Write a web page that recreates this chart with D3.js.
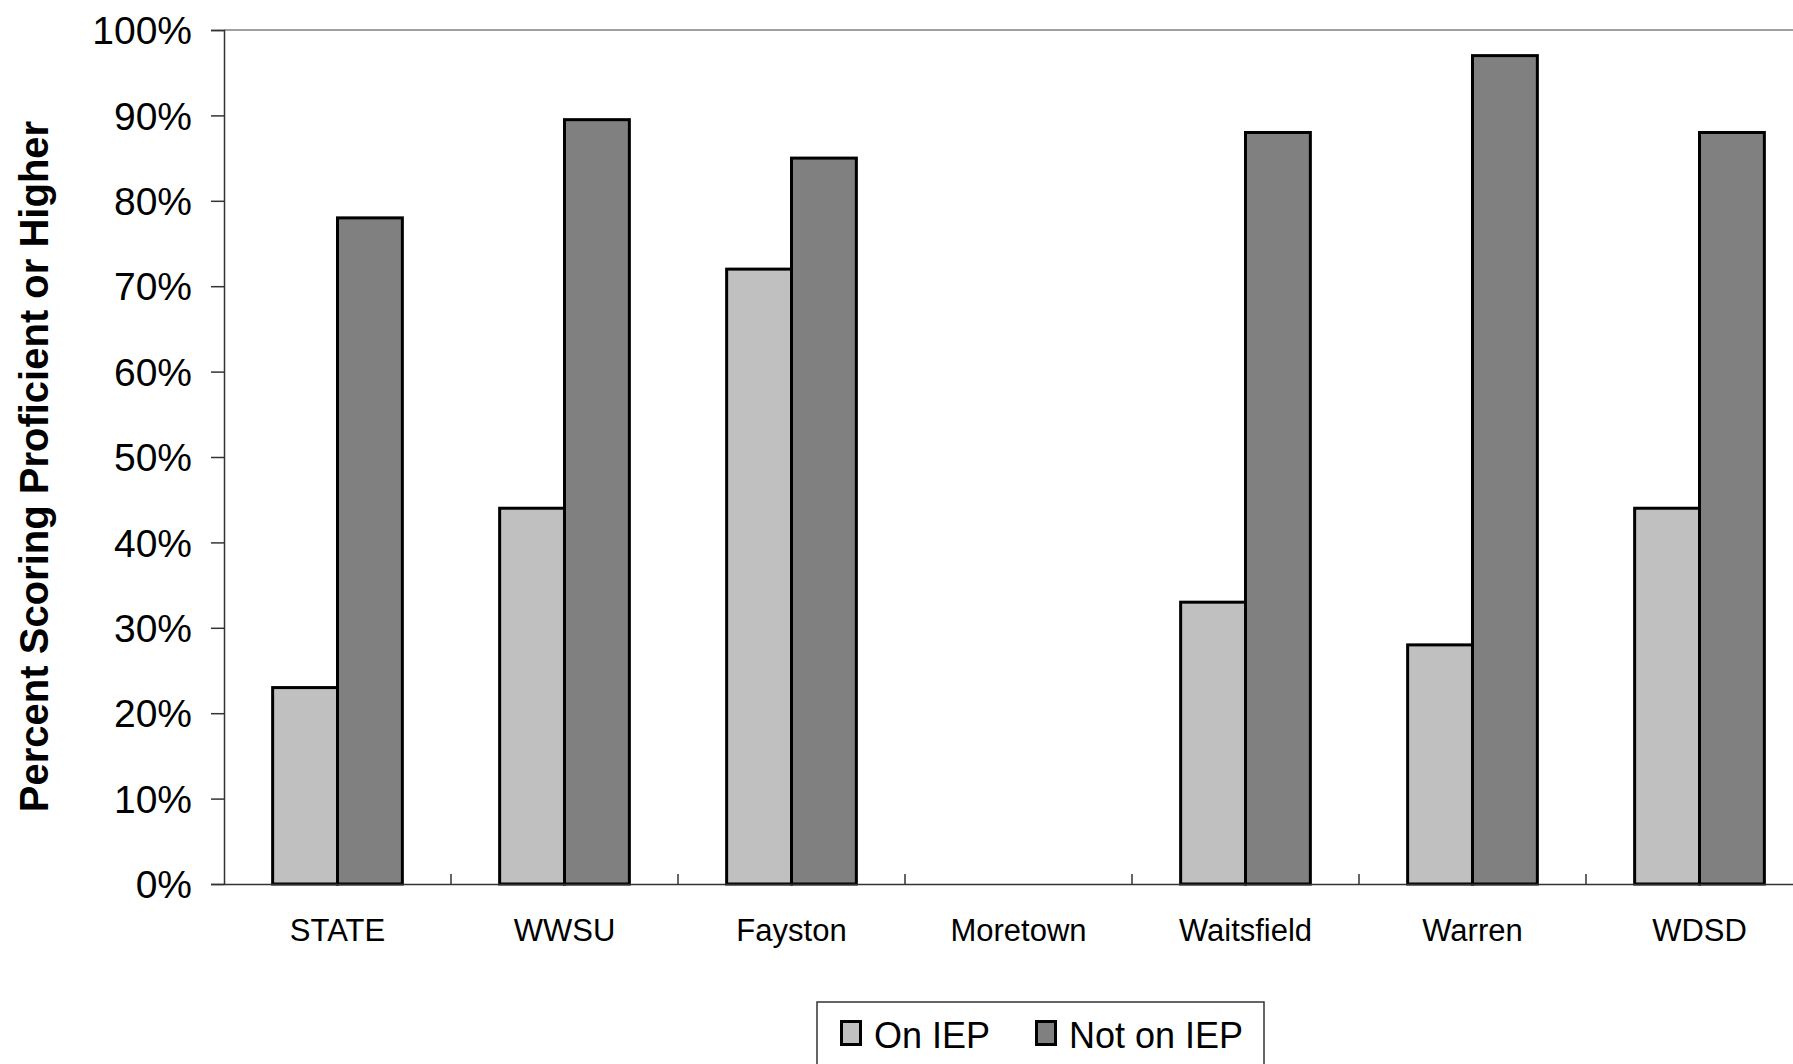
<!DOCTYPE html>
<html>
<head>
<meta charset="utf-8">
<script src="https://cdn.jsdelivr.net/npm/d3@7"></script>
<style>
  html, body { margin: 0; padding: 0; background: #fff; }
  svg { display: block; }
  text { font-family: Arial, "Liberation Sans", sans-serif; fill: #000; }
</style>
</head>
<body>
<script>
const categories = ["STATE", "WWSU", "Fayston", "Moretown", "Waitsfield", "Warren", "WDSD"];
const seriesNames = ["On IEP", "Not on IEP"];
const onIEP    = [23, 44, 72, null, 33, 28, 44];
const notOnIEP = [78, 89.5, 85, null, 88, 97, 88];
const yTicks = [0, 10, 20, 30, 40, 50, 60, 70, 80, 90, 100];
const yTitle = "Percent Scoring Proficient or Higher";
const colors = ["#C0C0C0", "#808080"];

const W = 1793, H = 1064;
const plotLeft = 224, plotTop = 30, plotBottom = 884, catWidth = 227;
const plotRight = plotLeft + catWidth * categories.length;

const svg = d3.select("body").append("svg").attr("width", W).attr("height", H);

const y = d3.scaleLinear().domain([0, 100]).range([plotBottom, plotTop]);
const x0 = d3.scaleBand().domain(categories).range([plotLeft, plotRight]).padding(0);
const bw = x0.bandwidth();
const barW = bw / 3.5;
const off = (bw - 2 * barW) / 2;
const x1 = d3.scaleBand().domain(seriesNames).range([off, off + 2 * barW]).padding(0);

// plot area top border
svg.append("line").attr("x1", plotLeft).attr("x2", plotRight).attr("y1", plotTop).attr("y2", plotTop)
  .attr("stroke", "#808080").attr("stroke-width", 1.5);

// bars
const rows = categories.map((c, i) => ({ cat: c, vals: [onIEP[i], notOnIEP[i]] }));
const g = svg.append("g");
rows.forEach(r => {
  r.vals.forEach((v, si) => {
    if (v == null) return;
    g.append("rect")
      .attr("x", x0(r.cat) + x1(seriesNames[si]))
      .attr("y", y(v))
      .attr("width", x1.bandwidth())
      .attr("height", y(0) - y(v))
      .attr("fill", colors[si])
      .attr("stroke", "#000")
      .attr("stroke-width", 3);
  });
});

// y axis
const yAxis = d3.axisLeft(y).tickValues(yTicks).tickFormat(d => d + "%").tickSize(13).tickPadding(19);
const ya = svg.append("g").attr("transform", `translate(${plotLeft},0)`).call(yAxis);
ya.select(".domain").attr("stroke", "#333").attr("stroke-width", 1.5);
ya.selectAll(".tick line").attr("stroke", "#333").attr("stroke-width", 1.5);
ya.selectAll(".tick text").attr("font-size", 39).attr("font-family", "Arial, 'Liberation Sans', sans-serif")
  .attr("fill", "#000").attr("dy", "0.35em");

// x axis
const xAxis = d3.axisBottom(x0).tickSize(0).tickPadding(0);
const xa = svg.append("g").attr("transform", `translate(0,${plotBottom})`).call(xAxis);
xa.select(".domain").attr("stroke", "#333").attr("stroke-width", 1.5);
xa.selectAll(".tick text").attr("font-size", 31).attr("font-family", "Arial, 'Liberation Sans', sans-serif")
  .attr("fill", "#000").attr("y", 57).attr("dy", 0);
// category separator ticks (inside)
xa.selectAll(".sep").data(categories.slice(1)).enter().append("line")
  .attr("x1", d => x0(d)).attr("x2", d => x0(d)).attr("y1", 0).attr("y2", -10)
  .attr("stroke", "#333").attr("stroke-width", 1.5);

// y title
svg.append("text")
  .attr("transform", `translate(48,${(123 + 810) / 2}) rotate(-90)`)
  .attr("text-anchor", "middle")
  .attr("font-size", 40).attr("font-weight", "bold")
  .text(yTitle);

// legend
const lg = svg.append("g");
lg.append("rect").attr("x", 817).attr("y", 1002).attr("width", 447).attr("height", 80)
  .attr("fill", "#fff").attr("stroke", "#333").attr("stroke-width", 1.5);
const legX = [840, 1035];
seriesNames.forEach((s, i) => {
  lg.append("rect").attr("x", legX[i] + 1.5).attr("y", 1021.5).attr("width", 19).attr("height", 23)
    .attr("fill", colors[i]).attr("stroke", "#000").attr("stroke-width", 3);
  lg.append("text").attr("x", legX[i] + 34).attr("y", 1048).attr("font-size", 36).text(s);
});
</script>
</body>
</html>
